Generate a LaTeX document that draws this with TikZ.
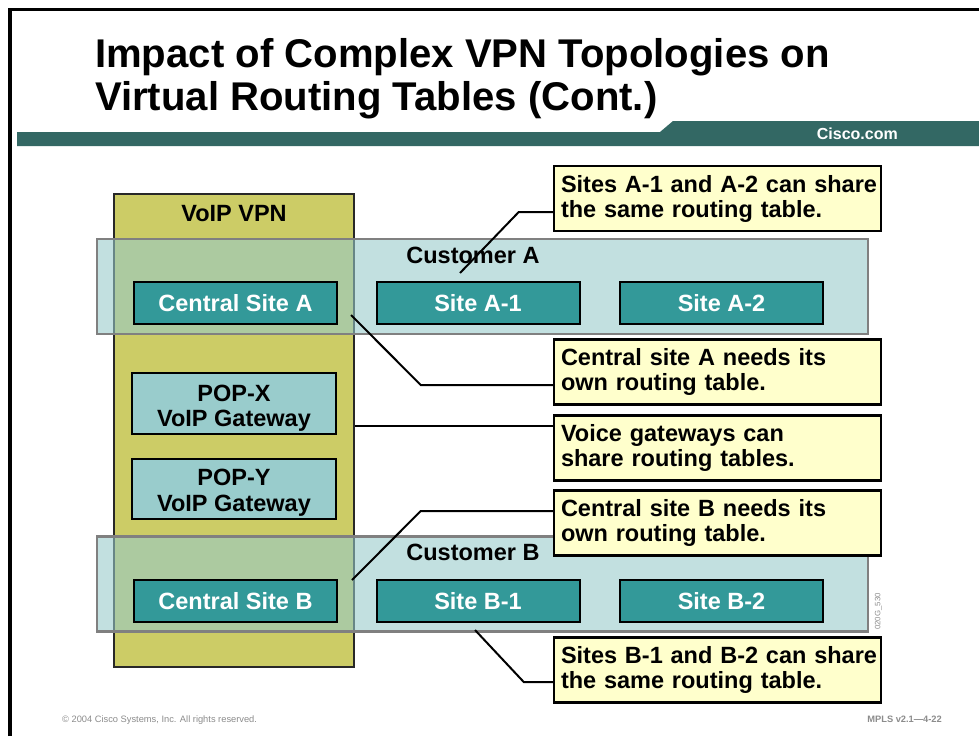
\documentclass[tikz,border=0pt]{standalone}
\usepackage{fontspec}
\setmainfont{Liberation Sans}
\definecolor{barcol}{RGB}{51,104,100}
\definecolor{olive}{RGB}{204,204,102}
\definecolor{custfill}{RGB}{150,202,202}
\definecolor{custline}{RGB}{128,128,128}
\definecolor{sitecol}{RGB}{51,153,153}
\definecolor{popcol}{RGB}{153,204,204}
\definecolor{notecol}{RGB}{255,255,204}
\definecolor{footcol}{RGB}{140,140,140}
\definecolor{voipline}{RGB}{40,40,40}
\newcommand\myfs[1]{\fontsize{#1}{#1}\selectfont}
\newcommand\bodyfont{\fontsize{23.5}{25}\selectfont\bfseries}
\tikzset{
  sitebox/.style={draw=black, line width=2pt, fill=sitecol, text=white, font=\bodyfont,
    minimum width=203pt, minimum height=42pt, inner sep=0pt},
  popbox/.style={draw=black, line width=2pt, fill=popcol, minimum width=204pt, inner sep=0pt},
  custbox/.style={draw=custline, line width=2.5pt, fill=custfill, fill opacity=0.58,
    minimum width=771pt, minimum height=95pt, inner sep=0pt},
  voipbox/.style={draw=voipline, line width=2pt, fill=olive, minimum width=240pt,
    minimum height=473pt, inner sep=0pt},
  callout/.style={draw=black, line width=2.5pt, fill=notecol, align=left, text width=313pt,
    inner xsep=7pt, inner ysep=0pt, minimum height=65pt, font=\bodyfont},
  lbl/.style={font=\bodyfont, inner sep=0pt},
  poplbl/.style={font=\fontsize{23.5}{25.6}\selectfont\bfseries, inner sep=0pt, align=center},
  conn/.style={draw=black, line width=2pt},
}
\begin{document}
\begin{tikzpicture}[x=1pt,y=-1pt]
\useasboundingbox (0,0) rectangle (979,736);
\fill[white] (0,0) rectangle (979,736);
% frame
\draw[line width=3.5pt] (10,736) -- (10,9.5) -- (979,9.5);
% title
\node[anchor=base west, inner sep=0pt, font=\myfs{40.1}\bfseries] (t1) at (95,67) {Impact of Complex VPN Topologies on};
\node[anchor=base west, inner sep=0pt, font=\myfs{40.1}\bfseries] (t2) at (95,110) {Virtual Routing Tables (Cont.)};
% bar
\fill[barcol] (17,132) -- (660,132) -- (673,121) -- (979,121) -- (979,146) -- (17,146) -- cycle;
\node[anchor=base east, text=white, font=\myfs{16}\bfseries, inner sep=0pt] (cisco) at (898,139) {Cisco.com};
% VoIP VPN
\node[voipbox] (voip) at (234,430.5) {};
\node[lbl, anchor=base] (voiplbl) at (234,221.7) {VoIP VPN};
% customers
\node[custbox] (custA) at (482.5,286.5) {};
\node[custbox] (custB) at (482.5,584) {};
\node[lbl, anchor=base] (custAlbl) at (473,263) {Customer A};
\node[lbl, anchor=base] (custBlbl) at (473,560) {Customer B};
% sites
\node[sitebox] (cA) at (235.5,303) {Central Site A};
\node[sitebox] (A1) at (478,303) {Site A-1};
\node[sitebox] (A2) at (721.5,303) {Site A-2};
\node[sitebox] (cB) at (235.5,601) {Central Site B};
\node[sitebox] (B1) at (478,601) {Site B-1};
\node[sitebox] (B2) at (721.5,601) {Site B-2};
% POPs
\node[popbox, minimum height=61pt] (popx) at (234,403.5) {};
\node[popbox, minimum height=60pt] (popy) at (234,489) {};
\node[poplbl] (popxlbl) at ([yshift=-4.9pt]popx.center) {POP-X\\VoIP Gateway};
\node[poplbl] (popylbl) at ([yshift=-3.5pt]popy.center) {POP-Y\\VoIP Gateway};
% callouts
\node[callout] (c1) at (717.5,198.5) {\mbox{Sites A-1 and A-2 can share}\\the same routing table.};
\node[callout] (c2) at (717.5,372) {Central site A needs its\\own routing table.};
\node[callout] (c3) at (717.5,448) {Voice gateways can\\share routing tables.};
\node[callout] (c4) at (717.5,523) {Central site B needs its\\own routing table.};
\node[callout] (c5) at (717.5,670) {\mbox{Sites B-1 and B-2 can share}\\the same routing table.};
% connectors
\coordinate (e1) at (460,273);
\coordinate (e2) at (351,315);
\coordinate (e4) at (352,580);
\coordinate (e5) at (475,630);
\coordinate (k1) at ([yshift=-13.5pt]c1.west);
\coordinate (k2) at ([yshift=-13pt]c2.west);
\coordinate (k3) at ([yshift=22pt]c3.west);
\coordinate (k4) at ([yshift=12pt]c4.west);
\coordinate (k5) at ([yshift=-12pt]c5.west);
\draw[conn] (k1) -- ++(-34,0) -- (e1);
\draw[conn] (k2) -- ++(-132,0) -- (e2);
\draw[conn] (k3) -- (k3 -| voip.east);
\draw[conn] (k4) -- ++(-132,0) -- (e4);
\draw[conn] (k5) -- ++(-29,0) -- (e5);
% footer
\node[anchor=base west, text=footcol, font=\myfs{9.3}, inner sep=0pt] (copy) at (62,722.7) {\textcopyright{} 2004 Cisco Systems, Inc. All rights reserved.};
\node[anchor=base east, text=footcol, font=\myfs{9.3}\bfseries, inner sep=0pt] (mpls) at (942,722.7) {MPLS v2.1—4-22};
\node[rotate=90, text=footcol, font=\myfs{7.8}, inner sep=0pt] (code) at (878.5,611.5) {020G\_530};
\end{tikzpicture}
\end{document}
